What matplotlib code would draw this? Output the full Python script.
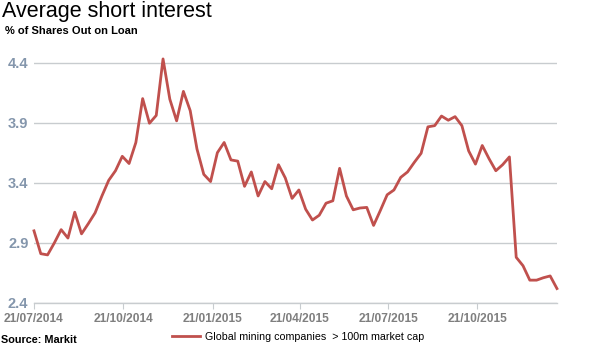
import numpy as np
import pandas as pd
import matplotlib
matplotlib.use("Agg")
import matplotlib.pyplot as plt
import matplotlib.dates as mdates

plt.rcParams['font.family'] = ['Liberation Sans', 'DejaVu Sans']

# weekly observations starting 21/07/2014
start_date = '2014-07-21'
short_interest = [
    3.00, 2.81, 2.80, 2.90, 3.01, 2.94, 3.155, 2.975, 3.06, 3.15,
    3.29, 3.42, 3.50, 3.62, 3.56, 3.735, 4.10, 3.895, 3.96, 4.43,
    4.095, 3.915, 4.16, 4.00, 3.68, 3.47, 3.41, 3.65, 3.735, 3.59,
    3.58, 3.37, 3.49, 3.29, 3.41, 3.35, 3.55, 3.44, 3.27, 3.34,
    3.18, 3.09, 3.13, 3.23, 3.25, 3.52, 3.29, 3.175, 3.19, 3.195,
    3.045, 3.17, 3.30, 3.34, 3.445, 3.49, 3.57, 3.645, 3.865, 3.875,
    3.955, 3.92, 3.95, 3.875, 3.665, 3.555, 3.71, 3.60, 3.50, 3.55,
    3.615, 2.78, 2.71, 2.59, 2.59, 2.61, 2.625, 2.52,
]
dates = pd.date_range(start_date, periods=len(short_interest), freq='7D')

tick_dates = ['2014-07-21', '2014-10-21', '2015-01-21', '2015-04-21', '2015-07-21', '2015-10-21']
y_ticks = [2.4, 2.9, 3.4, 3.9, 4.4]
series_label = 'Global mining companies  > 100m market cap'

fig = plt.figure(figsize=(5.9, 3.55), dpi=100)
ax = fig.add_axes([0.0576, 0.1465, 0.8864, 0.6943])

ax.plot(dates, short_interest, color='#c0504d', lw=2, label=series_label, clip_on=False)

ax.set_xlim(dates[0], dates[-1])
ax.set_ylim(2.4, 4.45)
ax.set_yticks(y_ticks)
ax.set_yticklabels([f'{v:.1f}' for v in y_ticks])
ax.set_xticks(pd.to_datetime(tick_dates))
ax.xaxis.set_major_formatter(mdates.DateFormatter('%d/%m/%Y'))

ax.grid(axis='y', color='#c8cccf', lw=1)
ax.set_axisbelow(True)
for s in ['top', 'right', 'left']:
    ax.spines[s].set_visible(False)
ax.spines['bottom'].set_color('#c8cccf')
ax.spines['bottom'].set_linewidth(1)
ax.tick_params(axis='y', length=0, pad=4, labelsize=10.5, labelcolor='#8496ac')
ax.tick_params(axis='x', length=4, color='#c8cccf', pad=3.5, labelsize=8.6, labelcolor='#7f7f7f')
for t in ax.get_yticklabels() + ax.get_xticklabels():
    t.set_fontweight('bold')

fig.text(0.004, 0.952, 'Average short interest', fontsize=15.5, va='baseline', ha='left')
fig.text(0.008, 0.903, '% of Shares Out on Loan', fontsize=8, fontweight='bold', va='baseline', ha='left')
fig.text(0.002, 0.034, 'Source: Markit', fontsize=7.8, fontweight='bold', va='baseline', ha='left')

leg = fig.legend(loc='center left', bbox_to_anchor=(0.285, 0.052), frameon=False,
                 fontsize=7.7, handlelength=2.6, handletextpad=0.4, borderaxespad=0)

fig.savefig('out.png', dpi=100)
